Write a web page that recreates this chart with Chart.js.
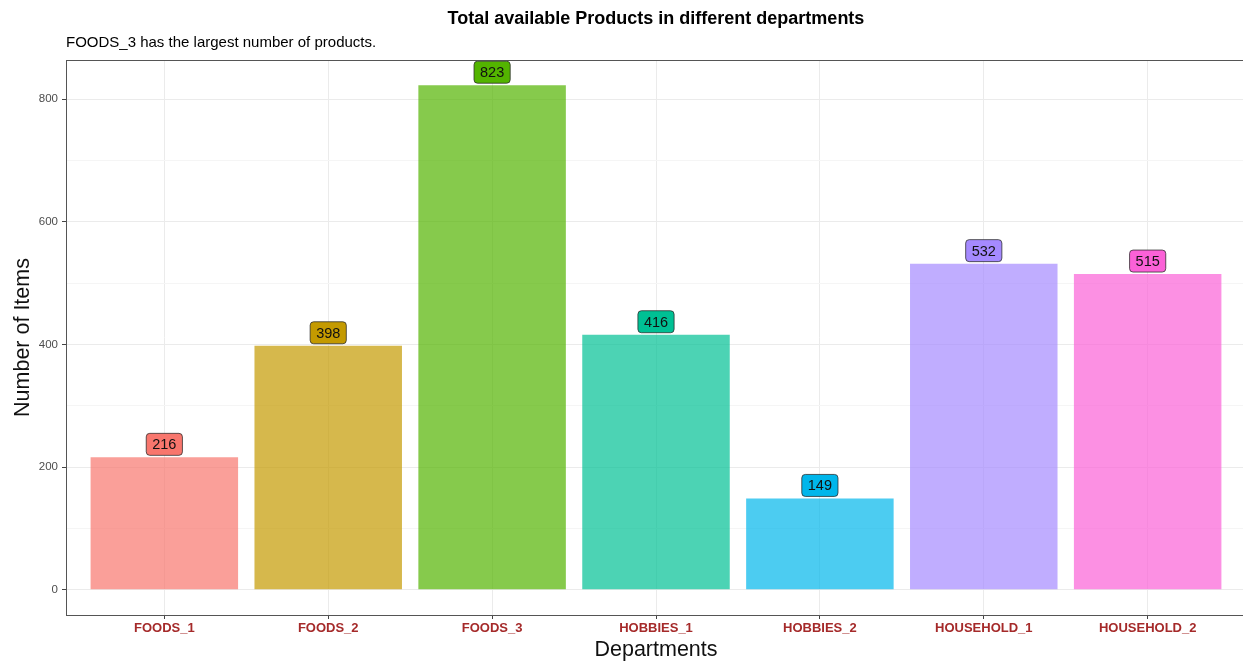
<!DOCTYPE html>
<html>
<head>
<meta charset="utf-8">
<script src="https://cdn.jsdelivr.net/npm/chart.js@4/dist/chart.umd.min.js"></script>
<style>
  html, body { margin: 0; padding: 0; background: #fff; overflow: hidden; }
  #wrap { position: relative; width: 1250px; height: 662px; }
</style>
</head>
<body>
<div id="wrap"><canvas id="c" width="1250" height="662"></canvas></div>
<script>
// Departments and their product counts
const departments = ['FOODS_1', 'FOODS_2', 'FOODS_3', 'HOBBIES_1', 'HOBBIES_2', 'HOUSEHOLD_1', 'HOUSEHOLD_2'];
const itemCounts = [216, 398, 823, 416, 149, 532, 515];
const hueColors = ['#F8766D', '#C49A00', '#53B400', '#00C094', '#00B6EB', '#A58AFF', '#FB61D7'];
const yTickValues = [0, 100, 200, 300, 400, 500, 600, 700, 800];

const titleText = 'Total available Products in different departments';
const subtitleText = 'FOODS_3 has the largest number of products.';
const xTitleText = 'Departments';
const yTitleText = 'Number of Items';

const FONT = '"Liberation Sans", Arial, Helvetica, sans-serif';

function withAlpha(hex, a) {
  const n = parseInt(hex.slice(1), 16);
  return `rgba(${(n >> 16) & 255},${(n >> 8) & 255},${n & 255},${a})`;
}

// Positions along the x axis: 1..n
const points = itemCounts.map((v, i) => ({ x: i + 1, y: v }));

// ggplot-style expansion of the value range
const yMax = Math.max(...itemCounts);
const yPad = yMax * 0.05;

const decorations = {
  id: 'decorations',
  afterDatasetsDraw(chart) {
    const ctx = chart.ctx;
    const meta = chart.getDatasetMeta(0);
    ctx.save();
    ctx.font = `14.5px ${FONT}`;
    ctx.textAlign = 'center';
    ctx.textBaseline = 'middle';
    meta.data.forEach((bar, i) => {
      const label = String(itemCounts[i]);
      const tw = ctx.measureText(label).width;
      const w = tw + 12, h = 22;
      const cx = bar.x, cy = bar.y - 13;
      const x0 = cx - w / 2, y0 = cy - h / 2;
      ctx.beginPath();
      ctx.roundRect(x0, y0, w, h, 3.5);
      ctx.fillStyle = hueColors[i];
      ctx.fill();
      ctx.lineWidth = 1;
      ctx.strokeStyle = 'rgba(40,40,40,0.75)';
      ctx.stroke();
      ctx.fillStyle = '#111';
      ctx.fillText(label, cx, cy + 1);
    });
    ctx.restore();
  },
  afterDraw(chart) {
    const ctx = chart.ctx;
    const a = chart.chartArea;
    ctx.save();
    // panel border
    ctx.strokeStyle = '#555';
    ctx.lineWidth = 1;
    ctx.strokeRect(a.left + 0.5, a.top + 0.5, a.right - a.left - 1, a.bottom - a.top);
    // titles
    const midX = (a.left + a.right) / 2;
    ctx.fillStyle = '#000';
    ctx.textBaseline = 'middle';
    ctx.textAlign = 'center';
    ctx.font = `bold 18px ${FONT}`;
    ctx.fillText(titleText, midX, 19);
    ctx.textAlign = 'left';
    ctx.font = `15px ${FONT}`;
    ctx.fillText(subtitleText, a.left, 43);
    ctx.textAlign = 'center';
    ctx.font = `21.5px ${FONT}`;
    ctx.fillStyle = '#111';
    ctx.fillText(xTitleText, midX, 650);
    ctx.translate(23, (a.top + a.bottom) / 2);
    ctx.rotate(-Math.PI / 2);
    ctx.fillText(yTitleText, 0, 0);
    ctx.restore();
  }
};

new Chart(document.getElementById('c'), {
  type: 'bar',
  data: {
    datasets: [{
      data: points,
      backgroundColor: hueColors.map(c => withAlpha(c, 0.7)),
      borderWidth: 0,
      categoryPercentage: 0.9,
      barPercentage: 1.0
    }]
  },
  options: {
    responsive: false,
    animation: false,
    events: [],
    layout: { padding: { left: 0, top: 60, right: 4, bottom: 0 } },
    plugins: { legend: { display: false }, tooltip: { enabled: false }, title: { display: false } },
    scales: {
      x: {
        type: 'linear',
        offset: false,
        min: 0.4,
        max: departments.length + 0.6,
        afterBuildTicks(scale) { scale.ticks = departments.map((d, i) => ({ value: i + 1 })); },
        afterFit(scale) { scale.height = 47; },
        ticks: {
          callback: (v) => departments[Math.round(v) - 1] || '',
          color: '#A52A2A',
          font: { family: FONT, size: 13, weight: 'bold' },
          padding: 2,
          maxRotation: 0,
          autoSkip: false
        },
        grid: { offset: false, color: '#EBEBEB', lineWidth: 1, tickLength: 4, tickColor: '#444', drawOnChartArea: true },
        border: { display: false }
      },
      y: {
        type: 'linear',
        min: -yPad,
        max: yMax + yPad,
        afterBuildTicks(scale) { scale.ticks = yTickValues.map(v => ({ value: v })); },
        afterFit(scale) { scale.width = 66; },
        ticks: {
          callback: (v) => (v % 200 === 0 ? String(v) : ''),
          color: '#4D4D4D',
          font: { family: FONT, size: 11.5 },
          padding: 4
        },
        grid: {
          color: (c) => (c.tick && c.tick.value % 200 === 0 ? '#EBEBEB' : '#F5F5F5'),
          lineWidth: 1,
          tickLength: 4,
          tickColor: (c) => (c.tick && c.tick.value % 200 === 0 ? '#444' : 'rgba(0,0,0,0)')
        },
        border: { display: false }
      }
    }
  },
  plugins: [decorations]
});
</script>
</body>
</html>
